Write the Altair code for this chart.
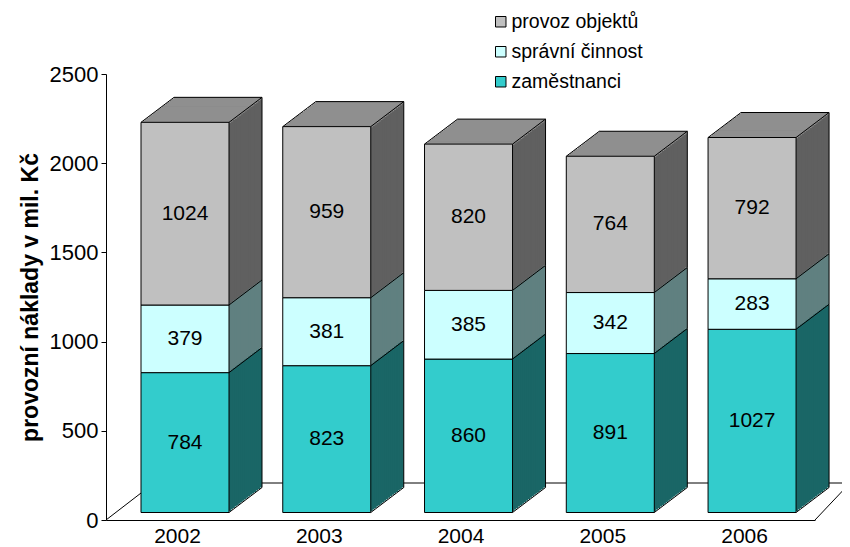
import altair as alt
import pandas as pd

# ---------------- data ----------------
years = [2002, 2003, 2004, 2005, 2006]
zamestnanci = [784, 823, 860, 891, 1027]
spravni_cinnost = [379, 381, 385, 342, 283]
provoz_objektu = [1024, 959, 820, 764, 792]

categories = ["provoz objektů", "správní činnost", "zaměstnanci"]
front_colors = ["#C0C0C0", "#CCFFFF", "#33CCCC"]
side_colors = ["#606060", "#608080", "#1A6666"]
top_color = "#8F8F8F"

y_ticks = [0, 500, 1000, 1500, 2000, 2500]

# ---------------- styling ----------------
FONT = "Liberation Sans"
HALF = 0.3104          # half bar width (in x-scale units)
DX, DY = 33, 25        # 3D depth in pixels
BASE = -7.5            # bars sit slightly above the axis line
N = 17                 # number of extrusion steps
SX, SY = DX / N, DY / N
XMIN, XMAX = 2001.4427, 2006.444

rows = []
for i, yr in enumerate(years):
    acc = 0
    for cat, vals, side in [
        ("zaměstnanci", zamestnanci, side_colors[2]),
        ("správní činnost", spravni_cinnost, side_colors[1]),
        ("provoz objektů", provoz_objektu, side_colors[0]),
    ]:
        v = vals[i]
        rows.append(dict(year=yr, cat=cat, value=v, y0=acc, y1=acc + v, side=side))
        acc += v
df = pd.DataFrame(rows)

xs = alt.Scale(domain=[XMIN, XMAX], nice=False, zero=False)
ys = alt.Scale(domain=[0, 2500], nice=False)

x_axis = alt.Axis(values=years, format="d", title=None, ticks=False, grid=False,
                  labelOffset=-8, labelFontSize=21, labelFont=FONT, labelColor="black",
                  labelPadding=5, domainColor="black", domainWidth=1, labelFlush=False)
y_axis = alt.Axis(values=y_ticks, format="d", title="provozní náklady v mil. Kč", grid=False,
                  tickSize=5, tickColor="black", tickWidth=1, domainColor="black",
                  labelFontSize=22, labelFont=FONT, labelColor="black", labelPadding=3,
                  titleFont=FONT, titleFontSize=23, titleFontWeight="bold", titleColor="black",
                  titlePadding=7)


def X(f):
    return alt.X(f"{f}:Q", scale=xs, axis=x_axis)


def Y(f):
    return alt.Y(f"{f}:Q", scale=ys, axis=y_axis)


base = alt.Chart(df).transform_calculate(
    xl=f"datum.year - {HALF}", xr=f"datum.year + {HALF}", ymid="(datum.y0 + datum.y1) / 2"
)

layers = []

# floor
one = pd.DataFrame({"d": [0]})
floor_back = alt.Chart(one).mark_rule(color="black", strokeWidth=1, xOffset=48, x2Offset=35,
                                      yOffset=-37).encode(
    x=alt.XDatum(XMIN), x2=alt.X2Datum(XMAX), y=alt.YDatum(0))
floor_left = alt.Chart(one).mark_rule(color="black", strokeWidth=1, x2Offset=48, y2Offset=-37).encode(
    x=alt.XDatum(XMIN), x2=alt.X2Datum(XMIN), y=alt.YDatum(0), y2=alt.Y2Datum(0))
floor_right = alt.Chart(one).mark_rule(color="black", strokeWidth=1, x2Offset=35, y2Offset=-37).encode(
    x=alt.XDatum(XMAX), x2=alt.X2Datum(XMAX), y=alt.YDatum(0), y2=alt.Y2Datum(0))
layers += [floor_back, floor_left, floor_right]

# side faces (extruded copies, back to front)
for k in range(N, 0, -1):
    layers.append(base.mark_bar(xOffset=k * SX, x2Offset=k * SX,
                                yOffset=BASE - k * SY, y2Offset=BASE - k * SY).encode(
        x=X("xl"), x2="xr", y=Y("y1"), y2="y0",
        color=alt.Color("side:N", scale=None)))

# top faces
for k in range(N, 0, -1):
    layers.append(base.transform_filter(alt.datum.cat == "provoz objektů").mark_bar(
        color=top_color, xOffset=k * SX, x2Offset=k * SX,
        yOffset=BASE - k * SY, y2Offset=BASE - (k - 1) * SY + 0.7).encode(
        x=X("xl"), x2="xr", y=Y("y1"), y2="y1"))

# front faces (with legend)
front = base.mark_bar(stroke="black", strokeWidth=1, yOffset=BASE, y2Offset=BASE).encode(
    x=X("xl"), x2="xr", y=Y("y1"), y2="y0",
    color=alt.Color("cat:N", scale=alt.Scale(domain=categories, range=front_colors),
                    legend=alt.Legend(title=None, orient="none", legendX=385, legendY=-62,
                                      symbolType="square", symbolSize=110,
                                      symbolStrokeColor="black", symbolStrokeWidth=1,
                                      symbolOpacity=1, labelFontSize=19.5, labelFont=FONT,
                                      labelColor="black", rowPadding=9, padding=0,
                                      labelOffset=1)))
layers.append(front)

# edges
edge = dict(color="black", strokeWidth=1)
layers.append(base.mark_rule(**edge, x2Offset=DX, yOffset=BASE, y2Offset=BASE - DY).encode(
    x=X("xr"), x2="xr", y=Y("y1"), y2="y1"))
layers.append(base.transform_filter(alt.datum.cat == "zaměstnanci").mark_rule(
    **edge, x2Offset=DX, yOffset=BASE, y2Offset=BASE - DY).encode(
    x=X("xr"), x2="xr", y=Y("y0"), y2="y0"))
top_only = base.transform_filter(alt.datum.cat == "provoz objektů")
layers.append(top_only.mark_rule(**edge, x2Offset=DX, yOffset=BASE, y2Offset=BASE - DY).encode(
    x=X("xl"), x2="xl", y=Y("y1"), y2="y1"))
layers.append(top_only.mark_rule(**edge, xOffset=DX, x2Offset=DX, yOffset=BASE - DY).encode(
    x=X("xl"), x2="xr", y=Y("y1")))
layers.append(base.mark_rule(**edge, xOffset=DX, x2Offset=DX, yOffset=BASE - DY,
                             y2Offset=BASE - DY).encode(
    x=X("xr"), y=Y("y1"), y2="y0"))

# value labels
layers.append(base.mark_text(font=FONT, fontSize=21, color="black", baseline="middle",
                             yOffset=BASE).encode(
    x=X("year"), y=Y("ymid"), text=alt.Text("value:Q", format="d")))

chart = alt.layer(*layers).properties(
    width=709, height=446,
    padding={"left": 98, "top": 66, "right": 27, "bottom": 30},
    autosize=alt.AutoSizeParams(type="none"),
).configure_view(stroke=None)

chart.save("out.html", embed_options={"renderer": "svg", "actions": False})
